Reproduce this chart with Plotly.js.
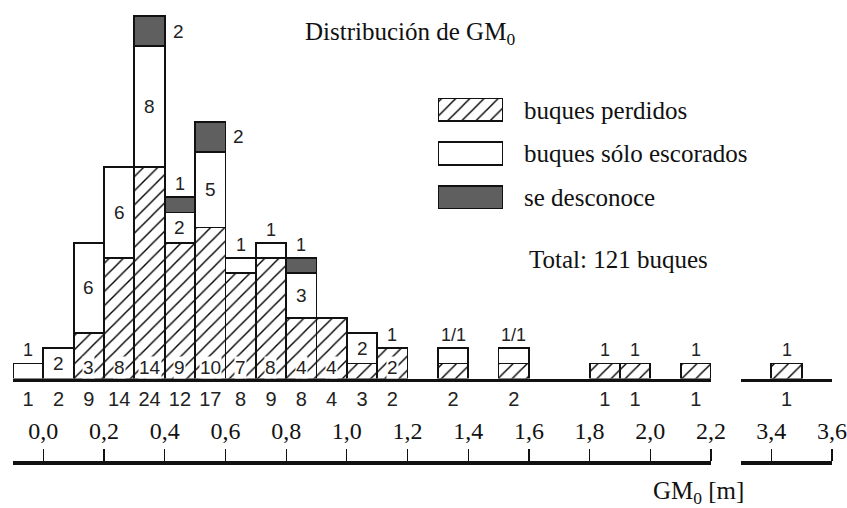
<!DOCTYPE html>
<html>
<head>
<meta charset="utf-8">
<script src="https://cdn.plot.ly/plotly-3.0.1.min.js"></script>
<style>html,body{margin:0;padding:0;background:#fff;}#chart{width:847px;height:508px;}</style>
</head>
<body>
<div id="chart"></div>
<script>
// ---- data (bin centres in m) ----
const binsMain = [-0.05, 0.05, 0.15, 0.25, 0.35, 0.45, 0.55, 0.65, 0.75, 0.85, 0.95, 1.05, 1.15, 1.35, 1.55, 1.85, 1.95, 2.15];
const perdidosMain  = [0, 0, 3, 8, 14, 9, 10, 7, 8, 4, 4, 1, 2, 1, 1, 1, 1, 1];
const escoradosMain = [1, 2, 6, 6, 8, 2, 5, 1, 1, 3, 0, 2, 0, 1, 1, 0, 0, 0];
const desconoceMain = [0, 0, 0, 0, 2, 1, 2, 0, 0, 1, 0, 0, 0, 0, 0, 0, 0, 0];

const binsFar = [3.45];
const perdidosFar  = [1];
const escoradosFar = [0];
const desconoceFar = [0];

// labels written in the chart
const lblPerdidosMain  = ['', '', '3', '8', '14', '9', '10', '7', '8', '4', '4', '', '2', '', '', '', '', ''];
const lblEscoradosMain = ['', '2', '6', '6', '8', '2', '5', '', '', '3', '', '2', '', '', '', '', '', ''];
const lblDesconoceMain = ['', '', '', '', '2', '', '2', '', '', '', '', '', '', '', '', '', '', ''];
const lblTopMain = ['1', '', '', '', '', '1', '', '1', '1', '1', '', '', '1', '1/1', '1/1', '1', '1', '1'];
const lblTopFar = ['1'];

const mainTicks = [0.0, 0.2, 0.4, 0.6, 0.8, 1.0, 1.2, 1.4, 1.6, 1.8, 2.0, 2.2];
const farTicks = [3.4, 3.6];

const legendNames = ['buques perdidos', 'buques sólo escorados', 'se desconoce'];
const legendSwatch = [1, 1, 1];
const totalText = 'Total: 121 buques';
const titleText = 'Distribución de GM<sub>0</sub>';
const axisTitleText = 'GM<sub>0</sub> [m]';

// ---- styles ----
const SERIF = 'Liberation Serif, Times New Roman, serif';
const SANS = 'Liberation Sans, Arial, sans-serif';
const DARK = '#5f5f5f';
const LINE = {color: '#111', width: 1.8};
const HATCH = {shape: '/', fgcolor: '#000', bgcolor: 'white', size: 10, solidity: 0.14};

const nz = a => a.map(v => v === 0 ? null : v);
const sum3 = (a, b, c) => a.map((v, i) => v + b[i] + c[i]);
const totMain = sum3(perdidosMain, escoradosMain, desconoceMain);
const totFar = sum3(perdidosFar, escoradosFar, desconoceFar);

function styleMarker(kind) {
  const m = {line: LINE};
  if (kind === 'p') { m.color = 'white'; m.pattern = HATCH; }
  if (kind === 'e') { m.color = 'white'; }
  if (kind === 'd') { m.color = DARK; }
  return m;
}
function barTrace(x, y, xaxis, kind) {
  return {type: 'bar', x: x, y: nz(y), width: 0.1, xaxis: xaxis, yaxis: 'y',
    showlegend: false, hoverinfo: 'skip', marker: styleMarker(kind)};
}
function swatchTrace(i, kind) {
  return {type: 'bar', orientation: 'h', x: [legendSwatch[i]], y: [legendNames[i]], xaxis: 'x5', yaxis: 'y5',
    width: 0.52, showlegend: false, hoverinfo: 'skip', marker: styleMarker(kind)};
}

const data = [
  barTrace(binsMain, perdidosMain, 'x', 'p'),
  barTrace(binsMain, escoradosMain, 'x', 'e'),
  barTrace(binsMain, desconoceMain, 'x', 'd'),
  barTrace(binsFar, perdidosFar, 'x2', 'p'),
  barTrace(binsFar, escoradosFar, 'x2', 'e'),
  barTrace(binsFar, desconoceFar, 'x2', 'd'),
  swatchTrace(0, 'p'), swatchTrace(1, 'e'), swatchTrace(2, 'd'),
  // carriers for the lower scale axes
  {type: 'scatter', x: [], y: [], xaxis: 'x3', yaxis: 'y', showlegend: false, hoverinfo: 'skip'},
  {type: 'scatter', x: [], y: [], xaxis: 'x4', yaxis: 'y', showlegend: false, hoverinfo: 'skip'}
];

// ---- annotations from the data ----
const anns = [];
const lf = {family: SANS, size: 19, color: '#222'};
function addLabels(bins, p, e, d, lp, le, ld, lt, xref) {
  bins.forEach((x, i) => {
    const tot = p[i] + e[i] + d[i];
    if (lp && lp[i]) anns.push({xref: xref, yref: 'y', x: x, y: 0, yshift: 11.5, yanchor: 'middle',
      text: lp[i], showarrow: false, bgcolor: 'white', borderpad: 0, font: lf});
    if (le && le[i]) anns.push({xref: xref, yref: 'y', x: x, y: p[i] + e[i] / 2, yanchor: 'middle',
      text: le[i], showarrow: false, font: lf});
    if (ld && ld[i]) anns.push({xref: xref, yref: 'y', x: x + 0.05, xanchor: 'left', xshift: 6,
      y: p[i] + e[i] + d[i] / 2, yanchor: 'middle', text: ld[i], showarrow: false, font: lf});
    if (lt && lt[i]) anns.push({xref: xref, yref: 'y', x: x, y: tot, yanchor: 'bottom', yshift: 1,
      text: lt[i], showarrow: false, font: {family: SANS, size: 18, color: '#222'}});
  });
}
addLabels(binsMain, perdidosMain, escoradosMain, desconoceMain, lblPerdidosMain, lblEscoradosMain, lblDesconoceMain, lblTopMain, 'x');
addLabels(binsFar, perdidosFar, escoradosFar, desconoceFar, null, null, null, lblTopFar, 'x2');

anns.push({xref: 'paper', yref: 'paper', x: (527 - 13) / 819, y: (463 - 259) / 462, xanchor: 'left', yanchor: 'middle',
  text: totalText, showarrow: false, font: {family: SERIF, size: 25, color: '#111'}});
anns.push({xref: 'paper', yref: 'paper', x: (651 - 13) / 819, y: (463 - 492) / 462, xanchor: 'left', yanchor: 'middle',
  text: axisTitleText, showarrow: false, font: {family: SERIF, size: 25, color: '#111'}});

const mainDom = [0, 698 / 819];
const farDom = [728 / 819, 1];

const layout = {
  width: 847, height: 508,
  margin: {l: 13, r: 15, t: 1, b: 45, pad: 0},
  paper_bgcolor: 'white', plot_bgcolor: 'white',
  separators: ',.',
  barmode: 'stack', bargap: 0,
  showlegend: false,
  title: {text: titleText, x: 305 / 847, xanchor: 'left', y: 1 - 31 / 508, yanchor: 'middle',
          font: {family: SERIF, size: 25, color: '#111'}},
  xaxis: {domain: mainDom, range: [-0.1, 2.2], anchor: 'y', showgrid: false, zeroline: false,
          showline: true, linecolor: '#111', linewidth: 3, ticks: '',
          tickmode: 'array', tickvals: binsMain, ticktext: totMain.map(String),
          tickfont: {family: SANS, size: 20, color: '#222'}, fixedrange: true},
  xaxis2: {domain: farDom, range: [3.3, 3.6], anchor: 'y', showgrid: false, zeroline: false,
          showline: true, linecolor: '#111', linewidth: 3, ticks: '',
          tickmode: 'array', tickvals: binsFar, ticktext: totFar.map(String),
          tickfont: {family: SANS, size: 20, color: '#222'}, fixedrange: true},
  xaxis3: {overlaying: 'x', range: [-0.1, 2.2], anchor: 'free', position: 0, side: 'top',
          showgrid: false, zeroline: false, showline: true, linecolor: '#111', linewidth: 4,
          ticks: 'outside', ticklen: 12, tickwidth: 1.2, tickcolor: '#111',
          tickmode: 'array', tickvals: mainTicks, tickformat: '.1f',
          tickfont: {family: SERIF, size: 24, color: '#111'}},
  xaxis4: {overlaying: 'x2', range: [3.3, 3.6], anchor: 'free', position: 0, side: 'top',
          showgrid: false, zeroline: false, showline: true, linecolor: '#111', linewidth: 4,
          ticks: 'outside', ticklen: 12, tickwidth: 1.2, tickcolor: '#111',
          tickmode: 'array', tickvals: farTicks, tickformat: '.1f',
          tickfont: {family: SERIF, size: 24, color: '#111'}},
  yaxis: {domain: [(463 - 378.5) / 462, 1], range: [0, 25], anchor: 'x', visible: false, fixedrange: true},
  xaxis5: {domain: [(438 - 13) / 819, (503 - 13) / 819], range: [0, 1], anchor: 'y5', visible: false, fixedrange: true},
  yaxis5: {domain: [(463 - 219) / 462, (463 - 88) / 462], anchor: 'x5', side: 'right', type: 'category',
           categoryorder: 'array', categoryarray: legendNames,
           autorange: 'reversed', showgrid: false, zeroline: false, showline: false, ticks: '',
           ticklabelstandoff: 20, tickfont: {family: SERIF, size: 25, color: '#111'}, fixedrange: true},
  annotations: anns
};

Plotly.newPlot('chart', data, layout, {staticPlot: true, displayModeBar: false});
</script>
</body>
</html>
